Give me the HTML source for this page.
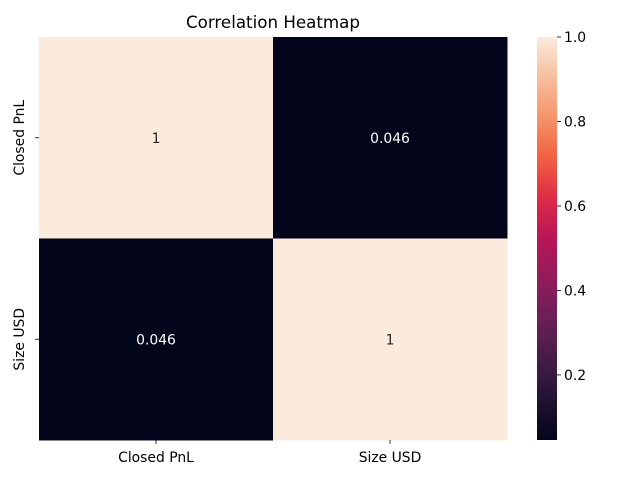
<!DOCTYPE html>
<html><head><meta charset="utf-8"><style>
body{margin:0;background:#fff;}
svg{display:block;font-family:"DejaVu Sans","Liberation Sans",sans-serif;}
</style></head><body>
<svg id="chart" width="640" height="480" viewBox="0 0 640 480">
<defs>
<linearGradient id="rocket" x1="0" y1="1" x2="0" y2="0">
<stop offset="0" stop-color="#03051a"/><stop offset="0.1" stop-color="#221331"/>
<stop offset="0.2" stop-color="#451c47"/><stop offset="0.3" stop-color="#6a1f56"/>
<stop offset="0.4" stop-color="#921c5b"/><stop offset="0.5" stop-color="#b91657"/>
<stop offset="0.6" stop-color="#dd2c45"/><stop offset="0.7" stop-color="#f06043"/>
<stop offset="0.8" stop-color="#f5936a"/><stop offset="0.9" stop-color="#f6bf9f"/>
<stop offset="1" stop-color="#faebdd"/>
</linearGradient>
</defs>
<text x="273" y="28" text-anchor="middle" font-size="16.7" fill="#000">Correlation Heatmap</text>
<g id="cells"></g>
<g id="labels"></g>
<rect x="537" y="37" width="20" height="403" fill="url(#rocket)"/>
<g id="cbticks"></g>
</svg>
<script>
const categories = ["Closed PnL", "Size USD"];
const values = [[1, 0.046], [0.046, 1]];
const cellLabels = [["1", "0.046"], ["0.046", "1"]];
const cbTicks = [0.2, 0.4, 0.6, 0.8, 1.0];
const vmin = 0.046, vmax = 1.0;
const X0 = 39, X1 = 507, Y0 = 37, Y1 = 440;
const ns = "http://www.w3.org/2000/svg";
const stops = [[0,"#03051a"],[0.1,"#221331"],[0.2,"#451c47"],[0.3,"#6a1f56"],[0.4,"#921c5b"],[0.5,"#b91657"],[0.6,"#dd2c45"],[0.7,"#f06043"],[0.8,"#f5936a"],[0.9,"#f6bf9f"],[1,"#faebdd"]];
function hex(h){return [1,3,5].map(i=>parseInt(h.substr(i,2),16));}
function color(v){
  let t=Math.max(0,Math.min(1,(v-vmin)/(vmax-vmin)));
  for(let i=0;i<stops.length-1;i++){
    if(t<=stops[i+1][0]){
      const f=(t-stops[i][0])/(stops[i+1][0]-stops[i][0]);
      const a=hex(stops[i][1]),b=hex(stops[i+1][1]);
      return "rgb("+a.map((c,k)=>Math.round(c+(b[k]-c)*f)).join(",")+")";
    }
  }
  return stops[stops.length-1][1];
}
const n = categories.length;
const cw = (X1-X0)/n, ch = (Y1-Y0)/n;
const xs = i => X0 + i*cw, ys = j => Y0 + j*ch;
const cbY = v => Y1 - (v-vmin)/(vmax-vmin)*(Y1-Y0);
function mk(tag, attrs, parent, text){
  const e=document.createElementNS(ns,tag);
  for(const k in attrs) e.setAttribute(k,attrs[k]);
  if(text!==undefined) e.textContent=text;
  document.getElementById(parent).appendChild(e); return e;
}
for(let j=0;j<n;j++) for(let i=0;i<n;i++){
  const v=values[j][i];
  const r=mk("rect",{x:xs(i),y:ys(j),width:cw+0.5,height:ch+0.5,fill:color(v)},"cells");
  
  
  const t=mk("text",{x:xs(i)+cw/2,y:ys(j)+ch/2+5,"text-anchor":"middle","font-size":"13.9",fill:v>0.5?"#262626":"#ffffff"},"labels",cellLabels[j][i]);
  
  
}
categories.forEach((c,i)=>{
  const cx=xs(i)+cw/2;
  mk("line",{x1:cx,x2:cx,y1:Y1,y2:Y1+4,stroke:"#000","stroke-width":0.8},"labels");
  const t=mk("text",{x:cx,y:Y1+22,"text-anchor":"middle","font-size":"13.9",fill:"#000"},"labels",c);
  
  
  const cy=ys(i)+ch/2;
  mk("line",{x1:X0-4,x2:X0,y1:cy,y2:cy,stroke:"#000","stroke-width":0.8},"labels");
  const t2=mk("text",{x:0,y:0,"text-anchor":"middle","font-size":"13.9",fill:"#000",transform:`translate(${X0-15},${cy}) rotate(-90)`},"labels",c);
  
  
});
cbTicks.forEach(v=>{
  const y=cbY(v);
  mk("line",{x1:557,x2:561,y1:y,y2:y,stroke:"#000","stroke-width":0.8},"cbticks");
  const t=mk("text",{x:564,y:y+5,"font-size":"13.9",fill:"#000"},"cbticks",v.toFixed(1));
  
  
});
</script>
</body></html>
